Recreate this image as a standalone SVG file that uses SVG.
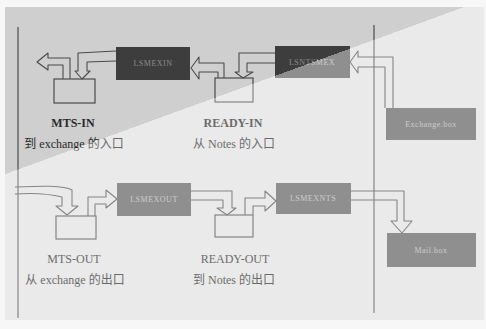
<svg xmlns="http://www.w3.org/2000/svg" width="486" height="329" viewBox="0 0 486 329">
<defs>
<linearGradient id="gbg" gradientUnits="userSpaceOnUse" x1="0" y1="0" x2="113.1" y2="310.8"><stop offset="0.5" stop-color="#cfcfcf"/><stop offset="0.5" stop-color="#eaeaea"/></linearGradient>
<linearGradient id="gbox" gradientUnits="userSpaceOnUse" x1="0" y1="0" x2="113.1" y2="310.8"><stop offset="0.5" stop-color="#3d3d3d"/><stop offset="0.5" stop-color="#8f8f8f"/></linearGradient>
<linearGradient id="gtx" gradientUnits="userSpaceOnUse" x1="0" y1="0" x2="113.1" y2="310.8"><stop offset="0.5" stop-color="#2a2a2a"/><stop offset="0.5" stop-color="#6a6a6a"/></linearGradient>
<linearGradient id="gln" gradientUnits="userSpaceOnUse" x1="0" y1="0" x2="113.1" y2="310.8"><stop offset="0.5" stop-color="#4a4a4a"/><stop offset="0.5" stop-color="#858585"/></linearGradient>
<linearGradient id="gin" gradientUnits="userSpaceOnUse" x1="0" y1="0" x2="113.1" y2="310.8"><stop offset="0.5" stop-color="#8a8a8a"/><stop offset="0.5" stop-color="#cdcdcd"/></linearGradient>
</defs>
<style>
.box{fill:url(#gbox);stroke:none}
.port{fill:none;stroke:url(#gln);stroke-width:1.2}
.arr{fill:none;stroke:url(#gln);stroke-width:1.1;stroke-linejoin:round}
.in{font-family:"Liberation Serif",serif;font-size:8px;fill:url(#gin);text-anchor:middle;letter-spacing:0.5px}
.lb{font-family:"Liberation Serif",serif;font-size:12px;fill:url(#gtx);text-anchor:middle}
.b{font-weight:bold}
.cn{font-family:"Liberation Serif","Noto Sans CJK SC",serif;font-size:12px;fill:url(#gtx);text-anchor:middle}
.vl{stroke:url(#gln);stroke-width:1.2}
</style>
<rect x="0" y="0" width="486" height="329" fill="#f7f7f7"/>
<rect x="5" y="7" width="479" height="313" fill="url(#gbg)"/>
<g id="lanes">
<line class="vl" x1="18" y1="27" x2="18" y2="318"/>
<line class="vl" x1="374" y1="25" x2="374" y2="313"/>
</g>
<g id="lsmexin"><rect class="box" x="116" y="47" width="74" height="33"/><text class="in" x="153" y="66">LSMEXIN</text></g>
<g id="lsntsmex"><rect class="box" x="275" y="46" width="75" height="32"/><text class="in" x="312" y="65">LSNTSMEX</text></g>
<g id="exchangebox"><rect class="box" x="386" y="108" width="90" height="32"/><text class="in" x="431" y="127">Exchange.box</text></g>
<g id="lsmexout"><rect class="box" x="117" y="183" width="74" height="33"/><text class="in" x="154" y="202">LSMEXOUT</text></g>
<g id="lsmexnts"><rect class="box" x="276" y="183" width="75" height="31"/><text class="in" x="313" y="201">LSMEXNTS</text></g>
<g id="mailbox"><rect class="box" x="387" y="233" width="89" height="34"/><text class="in" x="431" y="253">Mail.box</text></g>
<g id="mts-in"><rect class="port" x="54" y="79" width="41" height="24"/><text class="lb b" x="73" y="127">MTS-IN</text><text class="cn" x="74" y="148">到 exchange 的入口</text></g>
<g id="ready-in"><rect class="port" x="215" y="78" width="38" height="24"/><text class="lb b" x="233" y="127">READY-IN</text><text class="cn" x="234" y="148">从 Notes 的入口</text></g>
<g id="mts-out"><rect class="port" x="56" y="216" width="40" height="23"/><text class="lb" x="74" y="263">MTS-OUT</text><text class="cn" x="75" y="284">从 exchange 的出口</text></g>
<g id="ready-out"><rect class="port" x="215" y="215" width="38" height="22"/><text class="lb" x="235" y="263">READY-OUT</text><text class="cn" x="234" y="284">到 Notes 的出口</text></g>
<g id="connectors">
<path class="arr" d="M63,79 V65 H48 V70 L37,62 L48,53 V58 H70 V79"/>
<path class="arr" d="M116,51 L78,53 V71 H75 L82,79 L90,71 H87 V62 L116,61"/>
<path class="arr" d="M218,78 V72 H199 V79 L191,68 L199,57 V63 H224 V78"/>
<path class="arr" d="M275,53 H239 V72 H235 L243,78 L253,72 H247 V63 H275"/>
<path class="arr" d="M385,108 V67 H358 V73 L350,62 L358,51 V57 H393 V108"/>
<path class="arr" d="M15,187 C40,186 64,185 72,190 V206 H78 L67,215 L56,206 H62 V197 C50,194 30,193 15,194"/>
<path class="arr" d="M88,216 V197 H106 V190 L117,199 L106,208 V204 H95 V216"/>
<path class="arr" d="M191,191 H232 V208 H236 L227,215 L217,208 H223 V200 H191"/>
<path class="arr" d="M245,215 V198 H265 V191 L276,201 L265,211 V206 H253 V215"/>
<path class="arr" d="M351,191 H404 V221 H412 L402,233 L391,221 H397 V200 H351"/>
</g>
</svg>
